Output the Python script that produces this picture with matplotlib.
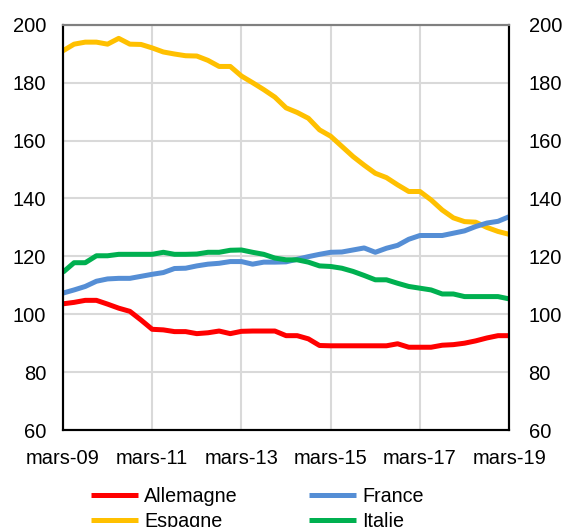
import numpy as np
import matplotlib.pyplot as plt

plt.rcParams['font.family'] = ['Liberation Sans', 'DejaVu Sans']

# trimestriel, mars-09 a mars-19
allemagne = [103.6, 104.1, 104.8, 104.8, 103.5, 102.1, 101.0, 98.0, 94.8, 94.6,
             94.0, 94.0, 93.3, 93.6, 94.2, 93.3, 94.1, 94.2, 94.2, 94.2,
             92.6, 92.6, 91.5, 89.2, 89.1, 89.1, 89.1, 89.1, 89.1, 89.1,
             89.8, 88.6, 88.6, 88.6, 89.3, 89.5, 90.0, 90.8, 91.8, 92.6, 92.6]
france = [107.3, 108.4, 109.6, 111.4, 112.2, 112.4, 112.4, 113.1, 113.8, 114.4,
          115.8, 115.9, 116.7, 117.3, 117.6, 118.2, 118.2, 117.3, 118.0, 118.0,
          118.1, 119.0, 119.9, 120.7, 121.4, 121.5, 122.2, 122.9, 121.4, 122.8,
          123.8, 125.9, 127.2, 127.2, 127.2, 128.0, 128.8, 130.3, 131.5, 132.1, 133.7]
espagne = [191.0, 193.3, 194.0, 194.0, 193.3, 195.3, 193.3, 193.2, 192.0, 190.6,
           189.9, 189.3, 189.2, 187.7, 185.6, 185.6, 182.3, 180.0, 177.6, 175.0,
           171.3, 169.7, 167.7, 163.7, 161.5, 158.0, 154.5, 151.5, 148.7, 147.2,
           144.7, 142.4, 142.4, 139.5, 136.0, 133.3, 132.0, 131.8, 130.0, 128.6, 127.6]
italie = [114.5, 117.8, 117.8, 120.2, 120.2, 120.7, 120.7, 120.7, 120.7, 121.4,
          120.7, 120.7, 120.8, 121.4, 121.4, 122.1, 122.2, 121.4, 120.7, 119.4,
          118.8, 118.8, 118.0, 116.7, 116.5, 115.9, 114.8, 113.4, 111.9, 111.9,
          110.7, 109.6, 109.0, 108.4, 107.0, 107.0, 106.1, 106.1, 106.1, 106.1, 105.3]
tick_labels = ['mars-09', 'mars-11', 'mars-13', 'mars-15', 'mars-17', 'mars-19']

x = np.arange(len(allemagne))

fig = plt.figure(figsize=(5.67, 5.27), dpi=100)
ax = fig.add_axes([0.111, 0.184, 0.787, 0.769])

lw = 3.6
# ordre choisi pour que la legende (remplie par colonnes) donne
# Allemagne / France sur la 1re ligne, Espagne / Italie sur la 2e
ax.plot(x, allemagne, color='#FF0000', lw=lw, label='Allemagne', solid_capstyle='butt')
ax.plot(x, espagne, color='#FFC000', lw=lw, label='Espagne', solid_capstyle='butt')
ax.plot(x, france, color='#558ED5', lw=lw, label='France', solid_capstyle='butt')
ax.plot(x, italie, color='#00B050', lw=lw, label='Italie', solid_capstyle='butt')

ax.set_xlim(0, len(x) - 1)
ax.set_ylim(60, 200)
ax.set_xticks(np.arange(0, len(x), 8))
ax.set_xticklabels(tick_labels)
ax.set_yticks(np.arange(60, 201, 20))
ax.grid(True, color='#d9d9d9', lw=1.5)
ax.set_axisbelow(True)

ax.tick_params(axis='both', length=0, labelsize=14.5)
ax.tick_params(axis='y', pad=12)
ax.tick_params(axis='x', pad=14)

ax2 = ax.twinx()
ax2.set_ylim(60, 200)
ax2.set_yticks(np.arange(60, 201, 20))
ax2.tick_params(axis='y', length=0, labelsize=14.5, pad=14)

for a in (ax, ax2):
    for side in ('left', 'right', 'bottom'):
        a.spines[side].set_color('black')
        a.spines[side].set_linewidth(1.5)
    a.spines['top'].set_color('#808080')
    a.spines['top'].set_linewidth(1.5)

fig.legend(*ax.get_legend_handles_labels(), loc='upper left',
           bbox_to_anchor=(0.129, 0.11), bbox_transform=fig.transFigure,
           ncol=2, frameon=False, fontsize=14.2, handlelength=2.4,
           handletextpad=0.3, columnspacing=3.6, labelspacing=0.3)

fig.savefig('out.png', dpi=100)
